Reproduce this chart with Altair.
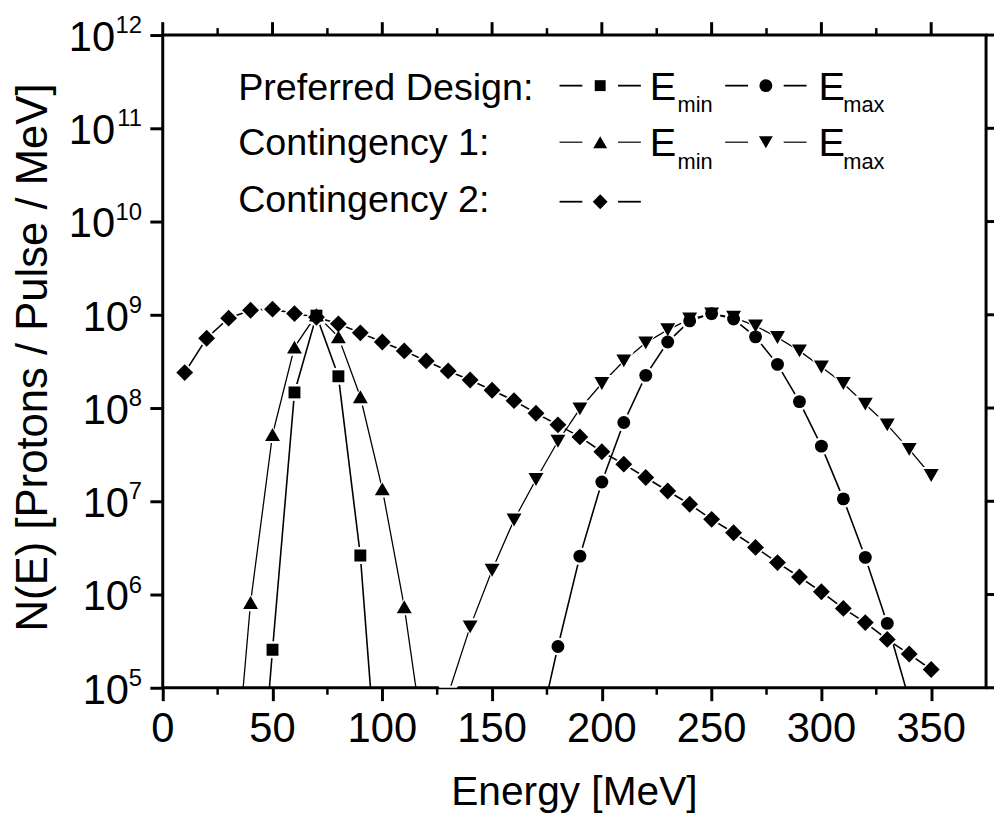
import altair as alt
import pandas as pd

FONT = "Liberation Sans, Arial, Helvetica, sans-serif"

# ---------------- data ----------------
# Contingency 2 (diamonds)
energy_c2 = [10, 20, 30, 40, 50, 60, 70, 80, 90, 100, 110, 120, 130, 140, 150, 160, 170, 180,
             190, 200, 210, 220, 230, 240, 250, 260, 270, 280, 290, 300, 310, 320, 330, 340, 350]
n_c2 = [2.4e8, 5.6e8, 9.2e8, 1.12e9, 1.15e9, 1.03e9, 9.4e8, 8.0e8, 6.4e8, 5.1e8, 4.1e8, 3.2e8,
        2.5e8, 2.0e8, 1.55e8, 1.2e8, 8.8e7, 6.6e7, 4.9e7, 3.4e7, 2.5e7, 1.8e7, 1.29e7, 9.3e6,
        6.4e6, 4.6e6, 3.2e6, 2.2e6, 1.54e6, 1.07e6, 7.1e5, 5.0e5, 3.3e5, 2.3e5, 1.57e5]

# Preferred Design, E_min (squares)
energy_pref_min = [40, 50, 60, 70, 80, 90, 100]
n_pref_min = [3.2e2, 2.56e5, 1.47e8, 9.8e8, 2.19e8, 2.62e6, 2.2e3]

# Preferred Design, E_max (circles)
energy_pref_max = [170, 180, 190, 200, 210, 220, 230, 240, 250, 260, 270, 280, 290, 300, 310,
                   320, 330, 340]
n_pref_max = [2.5e4, 2.77e5, 2.58e6, 1.61e7, 7.0e7, 2.24e8, 5.1e8, 8.6e8, 1.03e9, 9.0e8, 5.8e8,
              2.94e8, 1.17e8, 3.9e7, 1.06e7, 2.5e6, 4.9e5, 7.4e4]

# Contingency 1, E_min (up triangles)
energy_c1_min = [30, 40, 50, 60, 70, 80, 90, 100, 110, 120]
n_c1_min = [1.6e3, 8.2e5, 5.2e7, 4.5e8, 1.0e9, 5.8e8, 1.32e8, 1.36e7, 7.4e5, 1.7e4]

# Contingency 1, E_max (down triangles)
energy_c1_max = [130, 140, 150, 160, 170, 180, 190, 200, 210, 220, 230, 240, 250, 260, 270, 280,
                 290, 300, 310, 320, 330, 340, 350]
n_c1_max = [8.5e4, 4.5e5, 1.82e6, 6.3e6, 1.71e7, 4.4e7, 9.8e7, 1.83e8, 3.2e8, 5.0e8, 6.9e8,
            9.0e8, 1.02e9, 9.4e8, 7.6e8, 5.7e8, 4.1e8, 2.75e8, 1.83e8, 1.1e8, 6.6e7, 3.6e7,
            1.89e7]

# axis ticks / labels
x_ticks = [0, 50, 100, 150, 200, 250, 300, 350]
x_minor = [25, 75, 125, 175, 225, 275, 325]
y_exponents = [5, 6, 7, 8, 9, 10, 11, 12]

legend_rows = ["Preferred Design:", "Contingency 1:", "Contingency 2:"]

# ---------------- scales / encodings ----------------
W, H = 830, 658
xs = alt.Scale(domain=[0, 375], nice=False, zero=False)
ys = alt.Scale(type="log", domain=[1e5, 1e12], nice=False)
y_tick_vals = [10.0 ** e for e in y_exponents]

axx = alt.Axis(title=None, labels=False, domain=False, grid=False, values=x_ticks,
               tickSize=13, tickWidth=3, tickColor="black")
axy = alt.Axis(title=None, labels=False, domain=False, grid=False, values=y_tick_vals,
               tickSize=13, tickWidth=3, tickColor="black")


def X(f):
    return alt.X(f"{f}:Q", scale=xs, axis=axx)


def Y(f):
    return alt.Y(f"{f}:Q", scale=ys, axis=axy)


series = [
    # energies, values, shape, marker width, line width
    (energy_c2, n_c2, "diamond", 17, 1.6),
    (energy_c1_max, n_c1_max, "triangle-down", 15, 1.3),
    (energy_c1_min, n_c1_min, "triangle-up", 15, 1.3),
    (energy_pref_max, n_pref_max, "circle", 13, 1.6),
    (energy_pref_min, n_pref_min, "square", 12, 1.6),
]

layers = []
for E, N, shape, w, lw in series:
    df = pd.DataFrame({"E": E, "N": N})
    layers.append(alt.Chart(df).mark_line(color="black", strokeWidth=lw, clip=True)
                  .encode(x=X("E"), y=Y("N")))
for E, N, shape, w, lw in series:
    df = pd.DataFrame({"E": E, "N": N})
    layers.append(alt.Chart(df).mark_point(shape=shape, size=(w + 5) ** 2, filled=True,
                                           color="white", opacity=1, clip=True)
                  .encode(x=X("E"), y=Y("N")))
for E, N, shape, w, lw in series:
    df = pd.DataFrame({"E": E, "N": N})
    layers.append(alt.Chart(df).mark_point(shape=shape, size=w ** 2, filled=True,
                                           color="black", opacity=1, clip=True)
                  .encode(x=X("E"), y=Y("N")))

# ---------------- frame ticks (top, right, minor) ----------------
top_major = pd.DataFrame({"v": x_ticks})
minor = pd.DataFrame({"v": x_minor})
right = pd.DataFrame({"v": y_tick_vals})
layers.append(alt.Chart(top_major).mark_rule(color="black", strokeWidth=3)
              .encode(x=X("v"), y=alt.value(0), y2=alt.value(-13)))
layers.append(alt.Chart(minor).mark_rule(color="black", strokeWidth=2.5)
              .encode(x=X("v"), y=alt.value(0), y2=alt.value(-7)))
layers.append(alt.Chart(minor).mark_rule(color="black", strokeWidth=2.5)
              .encode(x=X("v"), y=alt.value(H), y2=alt.value(H + 7)))
layers.append(alt.Chart(right).mark_rule(color="black", strokeWidth=3)
              .encode(y=Y("v"), x=alt.value(W), x2=alt.value(W + 13)))

# ---------------- tick labels ----------------
xlab = pd.DataFrame({"v": x_ticks, "t": [str(v) for v in x_ticks]})
layers.append(alt.Chart(xlab).mark_text(font=FONT, fontSize=42, align="center",
                                        baseline="alphabetic", color="black")
              .encode(x=X("v"), y=alt.value(713), text="t:N"))

ylab = pd.DataFrame({"v": y_tick_vals, "exp": [str(e) for e in y_exponents],
                     "nd": [len(str(e)) for e in y_exponents]})
layers.append(alt.Chart(ylab).transform_filter("datum.nd == 1")
              .mark_text(text="10", font=FONT, fontSize=42, align="right",
                         baseline="alphabetic", dy=16, color="black")
              .encode(y=Y("v"), x=alt.value(-34)))
layers.append(alt.Chart(ylab).transform_filter("datum.nd == 2")
              .mark_text(text="10", font=FONT, fontSize=42, align="right",
                         baseline="alphabetic", dy=16, color="black")
              .encode(y=Y("v"), x=alt.value(-48)))
layers.append(alt.Chart(ylab).mark_text(font=FONT, fontSize=24, align="right",
                                        baseline="alphabetic", dy=-2, color="black")
              .encode(y=Y("v"), x=alt.value(-21), text="exp:N"))

one = pd.DataFrame({"d": [0]})

# axis titles
layers.append(alt.Chart(one).mark_text(text="Energy [MeV]", font=FONT, fontSize=41,
                                       align="center", baseline="alphabetic", color="black")
              .encode(x=alt.value(415), y=alt.value(776)))
layers.append(alt.Chart(one).mark_text(text="N(E) [Protons / Pulse / MeV]", font=FONT,
                                       fontSize=44, angle=270, align="center",
                                       baseline="alphabetic", color="black")
              .encode(x=alt.value(-117), y=alt.value(325)))

# ---------------- legend ----------------
row_text_y = [65, 121, 178]
row_mark_y = [51, 108, 168]
for txt, ty in zip(legend_rows, row_text_y):
    layers.append(alt.Chart(one).mark_text(text=txt, font=FONT, fontSize=38, align="left",
                                           baseline="alphabetic", color="black")
                  .encode(x=alt.value(76), y=alt.value(ty)))

c1, c2 = 441, 608
legend_symbols = [
    (c1, 0, "square", 11, 1.8), (c2, 0, "circle", 13, 1.8),
    (c1, 1, "triangle-up", 14, 1.2), (c2, 1, "triangle-down", 14, 1.2),
    (c1, 2, "diamond", 15, 1.8),
]
for cx, r, shape, w, lw in legend_symbols:
    yy = row_mark_y[r]
    for a, b in [(cx - 41, cx - 18), (cx + 18, cx + 41)]:
        layers.append(alt.Chart(one).mark_rule(color="black", strokeWidth=lw)
                      .encode(x=alt.value(a), x2=alt.value(b), y=alt.value(yy)))
    layers.append(alt.Chart(one).mark_point(shape=shape, size=w ** 2, filled=True,
                                            color="black", opacity=1)
                  .encode(x=alt.value(cx), y=alt.value(yy)))

e_rows = [(0, 65), (1, 122)]
for r, by in e_rows:
    for ex, sx, sub in [(491, 519, "min"), (661, 686, "max")]:
        layers.append(alt.Chart(one).mark_text(text="E", font=FONT, fontSize=40, align="left",
                                               baseline="alphabetic", color="black")
                      .encode(x=alt.value(ex), y=alt.value(by)))
        layers.append(alt.Chart(one).mark_text(text=sub, font=FONT, fontSize=22, align="left",
                                               baseline="alphabetic", color="black")
                      .encode(x=alt.value(sx), y=alt.value(by + 13)))

chart = alt.layer(*layers).properties(
    width=W, height=H,
    padding={"left": 156, "top": 24, "right": 8, "bottom": 126},
    autosize=alt.AutoSizeParams(type="none"),
    background="white",
).configure_view(stroke="black", strokeWidth=3)

chart.save("out.html", embed_options={"renderer": "svg", "actions": False})
